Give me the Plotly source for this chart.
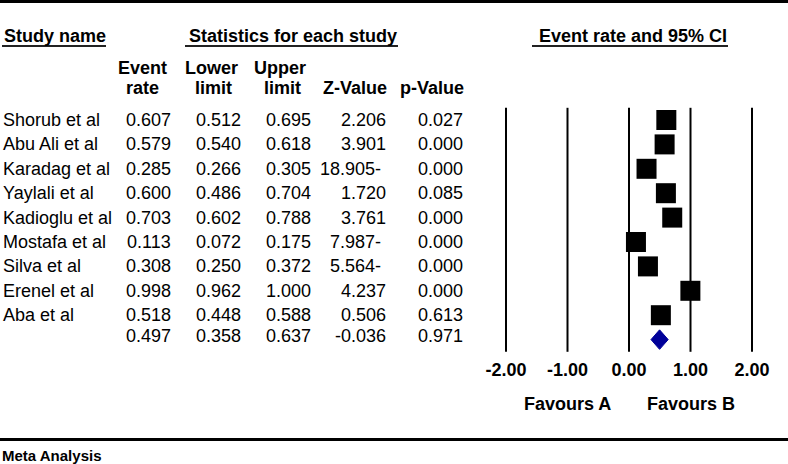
import plotly.graph_objects as go

STUDIES = ['Shorub et al', 'Abu Ali et al', 'Karadag et al', 'Yaylali et al', 'Kadioglu et al',
           'Mostafa et al', 'Silva et al', 'Erenel et al', 'Aba et al']
EVENT_RATE = [0.607, 0.579, 0.285, 0.600, 0.703, 0.113, 0.308, 0.998, 0.518]
LOWER_LIMIT = [0.512, 0.540, 0.266, 0.486, 0.602, 0.072, 0.250, 0.962, 0.448]
UPPER_LIMIT = [0.695, 0.618, 0.305, 0.704, 0.788, 0.175, 0.372, 1.000, 0.588]
Z_VALUE = ['2.206', '3.901', '18.905-', '1.720', '3.761', '7.987-', '5.564-', '4.237', '0.506']
P_VALUE = [0.027, 0.000, 0.000, 0.085, 0.000, 0.000, 0.000, 0.000, 0.613]

SUMMARY_RATE = 0.497
SUMMARY_LOWER = 0.358
SUMMARY_UPPER = 0.637
SUMMARY_Z = '-0.036'
SUMMARY_P = 0.971

TICK_VALUES = [-2, -1, 0, 1, 2]
TICK_TEXT = ['-2.00', '-1.00', '0.00', '1.00', '2.00']
FAVOURS = ['Favours A', 'Favours B']

W, H = 788, 464
FONT = 'Arial, Liberation Sans, sans-serif'
BLACK = '#000000'
DIAMOND_COLOUR = '#000099'

# pixel geometry of the forest panel
ZERO_PX = 629
UNIT_PX = 61.5
ROW0_PX = 120
ROW_PX = 24.4


def px(x):
    return x / W


def py(y):
    return 1 - y / H


n = len(STUDIES)
rows = list(range(n))
summary_row = n

# vertical reference lines at each tick
x_lines, y_lines = [], []
for t in TICK_VALUES:
    x_lines += [t, t, None]
    y_lines += [-0.5, summary_row + 0.5, None]

# confidence intervals (hidden behind the boxes)
x_ci, y_ci = [], []
for r, lo, hi in zip(rows, LOWER_LIMIT, UPPER_LIMIT):
    x_ci += [lo, hi, None]
    y_ci += [r, r, None]

fig = go.Figure()
fig.add_trace(go.Scatter(x=x_lines, y=y_lines, mode='lines',
                         line={'color': BLACK, 'width': 2}, hoverinfo='none'))
fig.add_trace(go.Scatter(x=x_ci, y=y_ci, mode='lines',
                         line={'color': BLACK, 'width': 1}, hoverinfo='none'))
fig.add_trace(go.Scatter(x=EVENT_RATE, y=rows, mode='markers',
                         marker={'symbol': 'square', 'size': 20, 'color': BLACK,
                                 'line': {'width': 0}},
                         text=STUDIES, hovertemplate='%{text}: %{x:.3f}<extra></extra>'))
fig.add_trace(go.Scatter(x=[SUMMARY_LOWER, SUMMARY_RATE, SUMMARY_UPPER, SUMMARY_RATE, SUMMARY_LOWER],
                         y=[summary_row, summary_row - 0.4, summary_row, summary_row + 0.4, summary_row],
                         mode='lines', fill='toself', fillcolor=DIAMOND_COLOUR,
                         line={'color': DIAMOND_COLOUR, 'width': 1}, hoverinfo='none'))

annotations = []


def add_text(text, x, y, anchor='left', size=18, bold=False, yref='paper', xref='paper', xshift=0):
    annotations.append(dict(text=f'<b>{text}</b>' if bold else text, x=x, y=y,
                            xref=xref, yref=yref, xanchor=anchor, yanchor='middle',
                            xshift=xshift, showarrow=False,
                            font={'family': FONT, 'size': size, 'color': BLACK}))


# headers
add_text('Study name', px(2), py(36), bold=True)
add_text('Statistics for each study', px(187), py(36), bold=True)
add_text('Event rate and 95% CI', px(537), py(36), bold=True)
add_text('Event', px(142), py(68), 'center', bold=True)
add_text('rate', px(142), py(88), 'center', bold=True)
add_text('Lower', px(211), py(68), 'center', bold=True)
add_text('limit', px(213), py(88), 'center', bold=True)
add_text('Upper', px(280), py(68), 'center', bold=True)
add_text('limit', px(282), py(88), 'center', bold=True)
add_text('Z-Value', px(389), py(88), 'right', bold=True)
add_text('p-Value', px(466), py(88), 'right', bold=True)

# table rows
COL_RIGHT = [173, 243, 313, 388, 465]
for r in rows:
    add_text(STUDIES[r], px(1), r, yref='y')
    cells = [f'{EVENT_RATE[r]:.3f}', f'{LOWER_LIMIT[r]:.3f}', f'{UPPER_LIMIT[r]:.3f}',
             Z_VALUE[r], f'{P_VALUE[r]:.3f}']
    for c, v in zip(COL_RIGHT, cells):
        # trailing minus signs sit a little left of the column edge
        add_text(v, px(c), r, 'right', yref='y', xshift=-5 if v.endswith('-') else 0)
summary_cells = [f'{SUMMARY_RATE:.3f}', f'{SUMMARY_LOWER:.3f}', f'{SUMMARY_UPPER:.3f}',
                 SUMMARY_Z, f'{SUMMARY_P:.3f}']
for c, v in zip(COL_RIGHT, summary_cells):
    add_text(v, px(c), summary_row - 0.15, 'right', yref='y')

# favours labels
add_text(FAVOURS[0], -1, py(404), 'center', bold=True, xref='x')
add_text(FAVOURS[1], 1, py(404), 'center', bold=True, xref='x')

add_text('Meta Analysis', px(0), py(455), bold=True, size=15)

shapes = []
for x0, x1 in [(2, 106), (185, 398), (532, 728)]:
    shapes.append(dict(type='line', xref='paper', yref='paper', x0=px(x0), x1=px(x1),
                       y0=py(46), y1=py(46), line={'color': '#222222', 'width': 2}))
for y in [1.5, 439.5]:
    shapes.append(dict(type='line', xref='paper', yref='paper', x0=0, x1=1,
                       y0=py(y), y1=py(y), line={'color': BLACK, 'width': 3}))

fig.update_layout(
    width=W, height=H, autosize=False,
    margin={'l': 0, 'r': 0, 't': 0, 'b': 0},
    showlegend=False,
    plot_bgcolor='white', paper_bgcolor='white',
    annotations=annotations, shapes=shapes,
    xaxis={'domain': [px(480), 1],
           'range': [(480 - ZERO_PX) / UNIT_PX, (W - ZERO_PX) / UNIT_PX],
           'anchor': 'free', 'position': py(352),
           'showgrid': False, 'zeroline': False, 'showline': False, 'ticks': '',
           'tickvals': TICK_VALUES, 'ticktext': [f'<b>{t}</b>' for t in TICK_TEXT],
           'tickfont': {'family': FONT, 'size': 18, 'color': BLACK},
           'ticklabelstandoff': 5,
           'fixedrange': True},
    yaxis={'domain': [0, 1],
           'range': [(H - ROW0_PX) / ROW_PX, (0 - ROW0_PX) / ROW_PX],
           'visible': False, 'fixedrange': True},
)

# the page's default body margin would shift the figure by 8px
fig.write_html('out.html', config={'displayModeBar': False},
               post_script="document.body.style.margin='0';")
